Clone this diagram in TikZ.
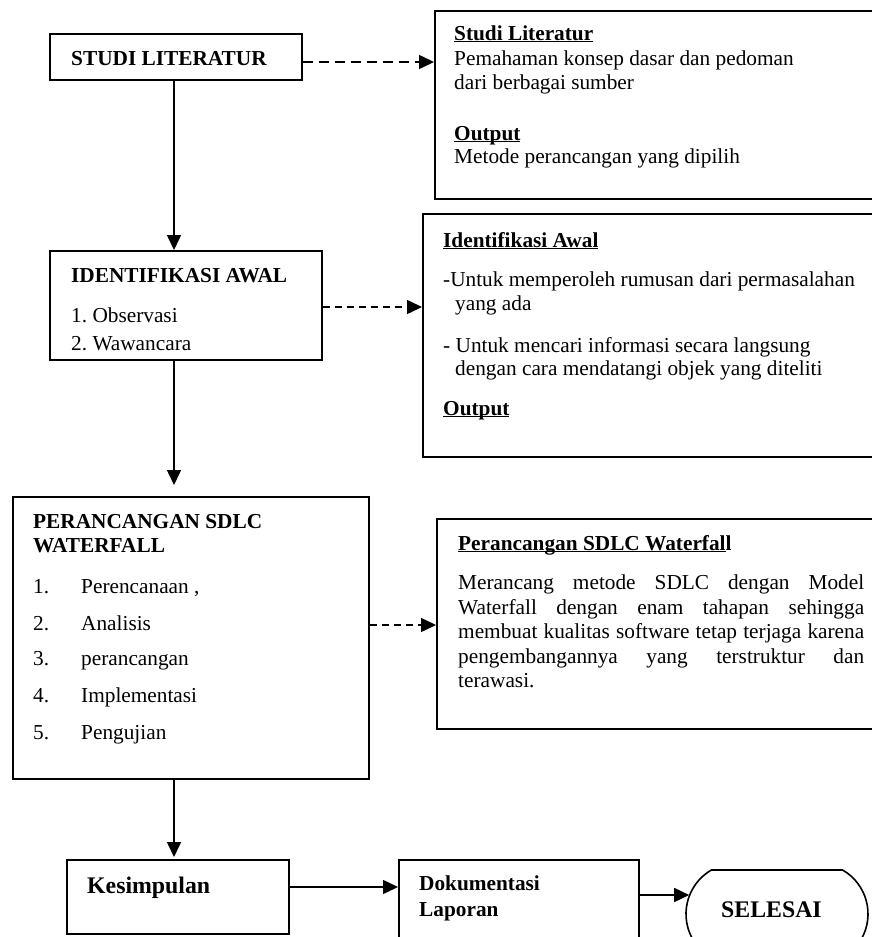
\documentclass[tikz,border=0pt]{standalone}
\usepackage{fontspec}
\setmainfont{Liberation Serif}
\usetikzlibrary{arrows.meta,shapes.misc}
\newcommand\ulx[1]{\setbox0\hbox{#1}\rlap{\rule[-2.4pt]{\wd0}{1.3pt}}\box0}
\tikzset{
  box/.style={draw, line width=1.6pt, rectangle, inner sep=0pt, anchor=north west},
  txt/.style={inner sep=0pt, anchor=base west, font=\fontsize{21.3}{24.5}\selectfont},
  btxt/.style={txt, font=\fontsize{21.3}{24.5}\selectfont\bfseries},
  big/.style={txt, font=\fontsize{23.8}{27}\selectfont\bfseries},
  conn/.style={line width=1.5pt, -{Triangle[length=15pt,width=14pt]}},
  dconn/.style={conn, dash pattern=on 7pt off 5pt},
}
\begin{document}
\begin{tikzpicture}[x=1pt,y=-1pt]
\useasboundingbox (0,0) rectangle (872,937);
\clip (0,0) rectangle (872,937);
% boxes
\node[box, minimum width=252pt, minimum height=46pt] (b1) at (49,33) {};
\node[box, minimum width=446pt, minimum height=188pt] (r1) at (434,10) {};
\node[box, minimum width=272pt, minimum height=109pt] (b2) at (49,250) {};
\node[box, minimum width=458pt, minimum height=243pt] (r2) at (422,213) {};
\node[box, minimum width=356pt, minimum height=282pt] (b3) at (12,496) {};
\node[box, minimum width=444pt, minimum height=210pt] (r3) at (436,518) {};
\node[box, minimum width=222pt, minimum height=74pt] (b4) at (66,859) {};
\node[box, minimum width=240pt, minimum height=110pt] (b5) at (398,859) {};
\node[draw, line width=1.6pt, rounded rectangle, rounded rectangle arc length=120,
      minimum width=182pt, minimum height=88pt, inner sep=0pt] (b6) at (777,914) {};
% texts
\node[btxt] (t1) at (71,65) {STUDI LITERATUR};
\node[btxt] (r1a) at (454,40) {\ulx{Studi Literatur}};
\node[txt] (r1b) at (454,65) {Pemahaman konsep dasar dan pedoman};
\node[txt] (r1c) at (454,89) {dari berbagai sumber};
\node[btxt] (r1d) at (454,140) {\ulx{Output}};
\node[txt] (r1e) at (454,163) {Metode perancangan yang dipilih};

\node[btxt] (t2) at (71,282) {IDENTIFIKASI AWAL};
\node[txt] (t2a) at (71,322) {1.\ Observasi};
\node[txt] (t2b) at (71,350) {2.\ Wawancara};
\node[btxt] (r2a) at (443,247) {\ulx{Identifikasi Awal}};
\node[txt] (r2b) at (443,286) {-Untuk memperoleh rumusan dari permasalahan};
\node[txt] (r2c) at (455,310) {yang ada};
\node[txt] (r2d) at (443,352) {- Untuk mencari informasi secara langsung};
\node[txt] (r2e) at (455,375) {dengan cara mendatangi objek yang diteliti};
\node[btxt] (r2f) at (443,415) {\ulx{Output}};

\node[btxt] (t3) at (33,528) {PERANCANGAN SDLC};
\node[btxt] (t3w) at (33,552) {WATERFALL};
\foreach \n/\yy/\s in {1/593/{Perencanaan ,},2/630/Analisis,3/665/perancangan,4/702/Implementasi,5/739/Pengujian}{
  \node[txt] (n\n) at (33,\yy) {\n.};
  \node[txt] (s\n) at (81,\yy) {\s};
}
\node[btxt] (r3a) at (458,550) {\ulx{Perancangan SDLC Waterfal}l};
\node[txt] (p1) at (458,589) {\makebox[406pt][s]{Merancang metode SDLC dengan Model}};
\node[txt] (p2) at (458,614) {\makebox[406pt][s]{Waterfall dengan enam tahapan sehingga}};
\node[txt] (p3) at (458,638) {\makebox[406pt][s]{membuat kualitas software tetap terjaga karena}};
\node[txt] (p4) at (458,663) {\makebox[406pt][s]{pengembangannya yang terstruktur dan}};
\node[txt] (p5) at (458,687) {terawasi.};

\node[big] (t4) at (87,893) {Kesimpulan};
\node[btxt] (t5a) at (419,890) {Dokumentasi};
\node[btxt] (t5b) at (419,916) {Laporan};
\node[big] (t6) at (721,917) {SELESAI};
% connectors
\coordinate (vx) at (174,0);
\coordinate (ya) at (0,62);
\coordinate (yb) at (0,307);
\coordinate (yc) at (0,625);
\coordinate (yd) at (0,887);
\coordinate (ye) at (0,895);
\draw[conn] (b1.south -| vx) -- (b2.north -| vx);
\draw[conn, shorten >=11pt] (b2.south -| vx) -- (b3.north -| vx);
\draw[conn, shorten >=2pt] (b3.south -| vx) -- (b4.north -| vx);
\draw[conn, dash pattern=on 10pt off 6pt] (b1.east |- ya) -- (r1.west |- ya);
\draw[dconn] (b2.east |- yb) -- (r2.west |- yb);
\draw[dconn] (b3.east |- yc) -- (r3.west |- yc);
\draw[conn] (b4.east |- yd) -- (b5.west |- yd);
\draw[conn, shorten >=-4pt] (b5.east |- ye) -- (b6.west |- ye);
\end{tikzpicture}
\end{document}
